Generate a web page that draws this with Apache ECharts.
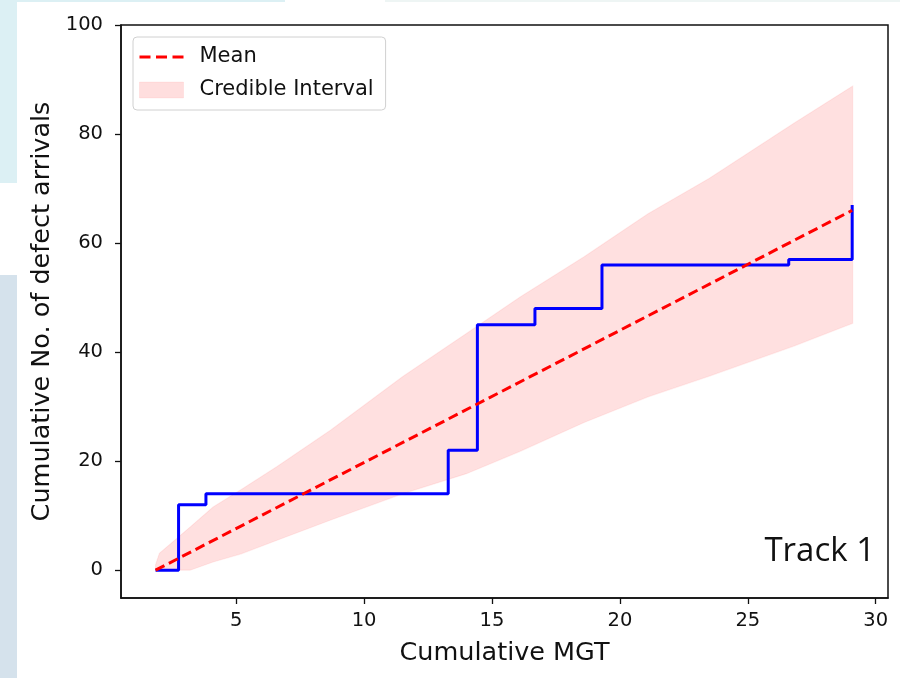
<!DOCTYPE html>
<html>
<head>
<meta charset="utf-8">
<script src="https://cdn.jsdelivr.net/npm/echarts@6/dist/echarts.min.js"></script>
<style>
  html, body { margin: 0; padding: 0; background: #fff; }
  #chart { width: 900px; height: 678px; }
</style>
</head>
<body>
<div id="chart"></div>
<script>
// observed arrivals (step, post)
var stepX = [1.85, 2.75, 3.82, 13.29, 14.43, 16.68, 19.3, 26.6, 29.08];
var stepY = [0, 12, 14, 22, 45, 48, 56, 57, 67];
// posterior mean
var meanX = [1.85, 29.08];
var meanY = [0, 66];
// credible interval
var ciX =     [1.85, 2.0, 3.2, 4.1, 5.2, 6.6, 8.7, 11.5, 14.0, 16.1, 18.6, 21.1, 23.5, 26.8, 29.1];
var ciLower = [0, 0, 0, 1.5, 3.0, 5.5, 9.2, 14.0, 17.7, 21.8, 27.1, 31.8, 35.6, 41.1, 45.3];
var ciUpper = [1.0, 3.1, 7.9, 11.6, 14.8, 19.0, 25.7, 35.5, 43.4, 50.1, 57.5, 65.4, 71.9, 82.0, 88.8];
var xTicks = [5, 10, 15, 20, 25, 30];
var yTicks = [0, 20, 40, 60, 80, 100];

function pairs(xs, ys) {
  var out = [];
  for (var i = 0; i < xs.length; i++) out.push([xs[i], ys[i]]);
  return out;
}

// band polygon: upper edge forward, lower edge back
function renderBand(params, api) {
  var upper = [], lower = [];
  for (var i = 0; i < ciX.length; i++) {
    upper.push(api.coord([ciX[i], ciUpper[i]]));
    lower.push(api.coord([ciX[i], ciLower[i]]));
  }
  var poly = upper.concat(lower.slice().reverse());
  return {
    type: 'group',
    children: [
      { type: 'polygon', shape: { points: poly }, style: { fill: 'rgba(255,0,0,0.12)', stroke: 'rgba(255,0,0,0.07)', lineWidth: 1.2 } }
    ]
  };
}

var myChart = echarts.init(document.getElementById('chart'));
var font = 'DejaVu Sans';
var option = {
  animation: false,
  textStyle: { fontFamily: font },
  graphic: [
    { type: 'rect', shape: { x: 0, y: 0, width: 17, height: 183 }, style: { fill: '#dcf0f4' }, silent: true },
    { type: 'rect', shape: { x: 17, y: 0, width: 268, height: 2 }, style: { fill: '#dcf0f4' }, silent: true },
    { type: 'rect', shape: { x: 0, y: 275, width: 17, height: 403 }, style: { fill: '#d5e2ec' }, silent: true },
    { type: 'rect', shape: { x: 385, y: 0, width: 515, height: 2 }, style: { fill: '#eef5f4' }, silent: true },
    {
      type: 'text', right: 25, top: 535,
      style: { text: 'Track 1', fontFamily: 'Open Sans', fontSize: 33, fill: '#111' }
    }
  ],
  legend: {
    left: 133, top: 37,
    orient: 'vertical',
    itemWidth: 44, itemHeight: 16, itemGap: 11,
    padding: [9, 12, 9, 6],
    borderColor: '#d0d0d0', borderWidth: 1, borderRadius: 4,
    backgroundColor: 'rgba(255,255,255,0.85)',
    textStyle: { fontSize: 21, lineHeight: 22, color: '#111', fontFamily: font, padding: [0, 0, 0, 11] },
    data: [
      { name: 'Mean', icon: 'path://M0,0h10v2.8h-10z M15,0h10v2.8h-10z M30,0h10v2.8h-10z', itemStyle: { color: '#ff0000' } },
      { name: 'Credible Interval', icon: 'rect', itemStyle: { color: 'rgba(255,0,0,0.13)', borderColor: 'rgba(255,0,0,0.06)', borderWidth: 1 } }
    ]
  },
  grid: {
    left: 121, top: 25, right: 12, bottom: 80,
    show: true, borderColor: '#111', borderWidth: 1.5
  },
  xAxis: {
    type: 'value', min: 0.5, max: 30.48,
    name: 'Cumulative MGT', nameLocation: 'middle', nameGap: 42,
    nameTextStyle: { fontSize: 25.5, color: '#111' },
    axisLine: { show: true, onZero: false, lineStyle: { color: '#111', width: 1.5 } },
    axisTick: { show: true, length: 6, lineStyle: { color: '#111', width: 1.3 }, customValues: xTicks },
    axisLabel: { fontSize: 19.5, color: '#111', margin: 13, customValues: xTicks },
    splitLine: { show: false }
  },
  yAxis: {
    type: 'value', min: -5.1, max: 100,
    name: 'Cumulative No. of defect arrivals', nameLocation: 'middle', nameGap: 66,
    nameTextStyle: { fontSize: 25.5, color: '#111' },
    axisLine: { show: true, onZero: false, lineStyle: { color: '#111', width: 1.5 } },
    axisTick: { show: true, length: 6, lineStyle: { color: '#111', width: 1.3 }, customValues: yTicks },
    axisLabel: { fontSize: 19.5, color: '#111', margin: 18, customValues: yTicks },
    splitLine: { show: false }
  },
  series: [
    {
      name: 'Credible Interval', type: 'custom', silent: true,
      renderItem: renderBand,
      itemStyle: { color: 'rgba(255,0,0,0.13)' },
      data: [[ciX[0], ciLower[0]]], z: 1
    },
    {
      name: 'Observed', type: 'line', step: 'end', symbol: 'none',
      lineStyle: { color: '#0000ff', width: 3 },
      data: pairs(stepX, stepY), z: 3
    },
    {
      name: 'Mean', type: 'line', symbol: 'none',
      lineStyle: { color: '#ff0000', width: 3, type: [10, 5] },
      itemStyle: { color: '#ff0000' },
      data: pairs(meanX, meanY), z: 4
    }
  ]
};
myChart.setOption(option);
</script>
</body>
</html>
